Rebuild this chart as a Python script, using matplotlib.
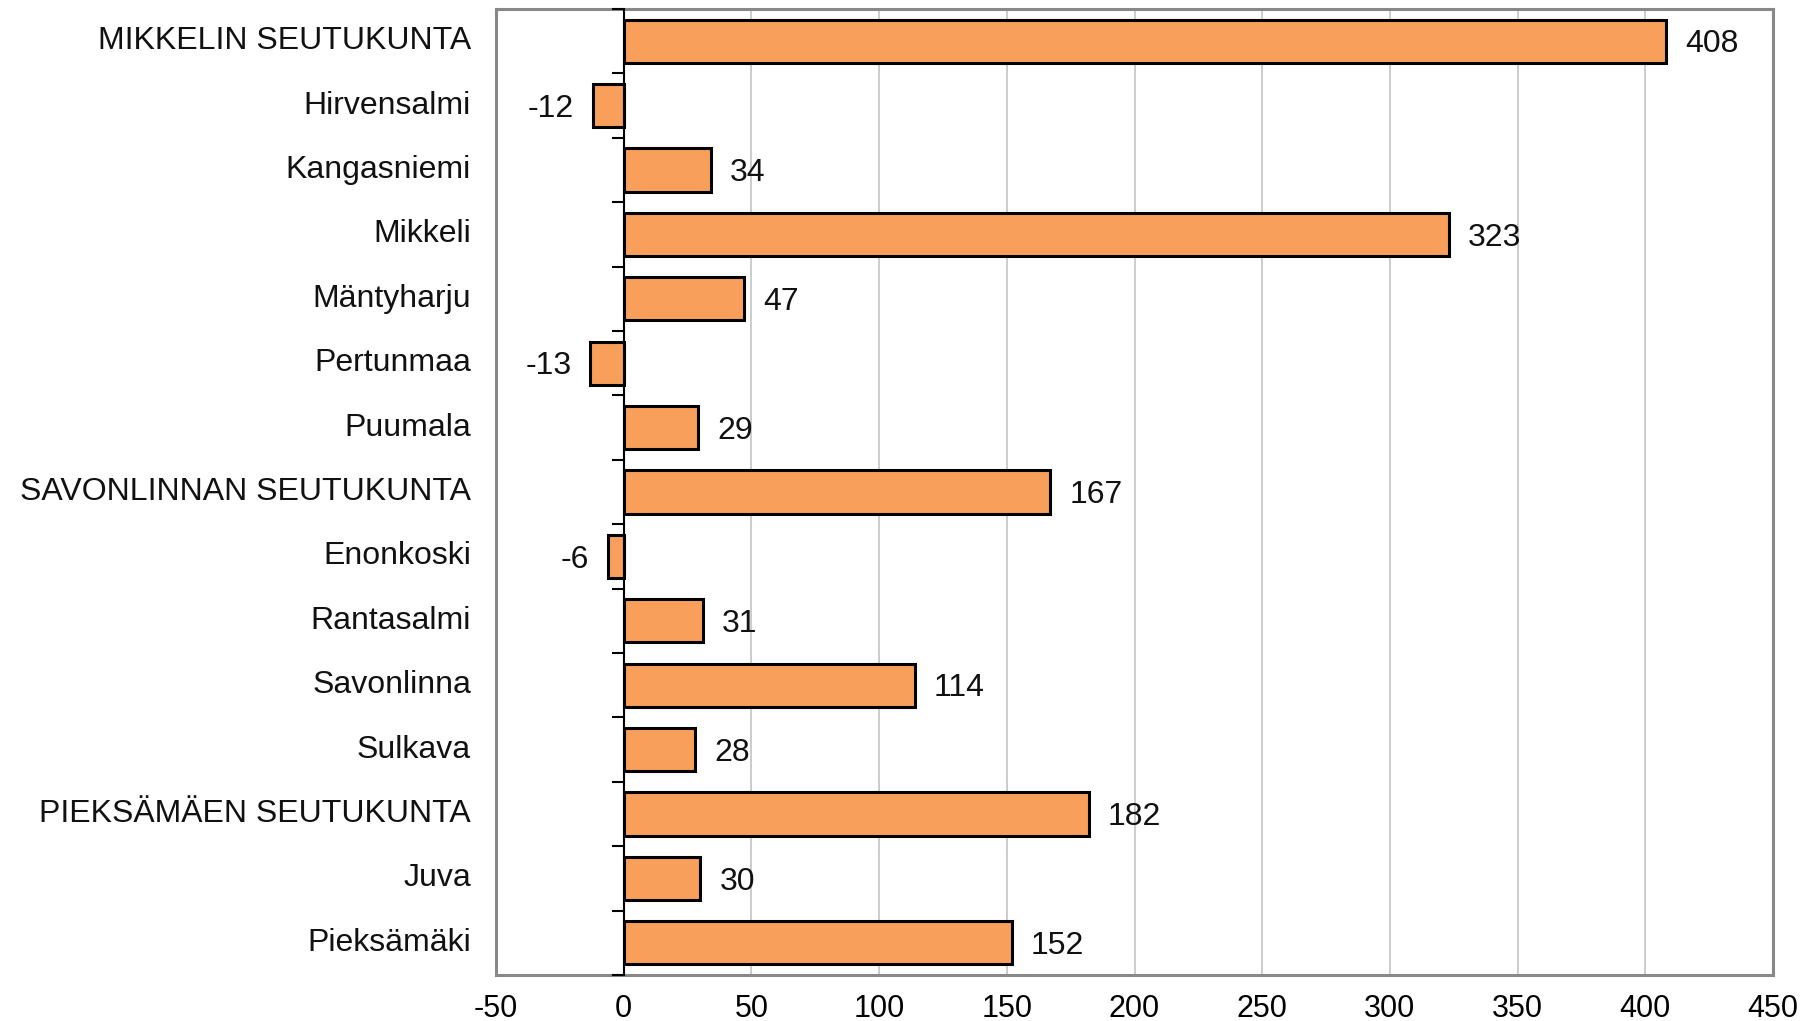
import matplotlib
matplotlib.use("Agg")
import matplotlib.pyplot as plt
import numpy as np

categories = ["MIKKELIN SEUTUKUNTA", "Hirvensalmi", "Kangasniemi", "Mikkeli",
              "Mäntyharju", "Pertunmaa", "Puumala", "SAVONLINNAN SEUTUKUNTA",
              "Enonkoski", "Rantasalmi", "Savonlinna", "Sulkava",
              "PIEKSÄMÄEN SEUTUKUNTA", "Juva", "Pieksämäki"]
values = [408, -12, 34, 323, 47, -13, 29, 167, -6, 31, 114, 28, 182, 30, 152]
xticks = [-50, 0, 50, 100, 150, 200, 250, 300, 350, 400, 450]

plt.rcParams['font.family'] = ['Liberation Sans', 'DejaVu Sans']

fig = plt.figure(figsize=(18.01, 10.21), dpi=100)
ax = fig.add_axes([496/1801, 1 - 975/1021, (1773-496)/1801, (975-9)/1021])

n = len(categories)
y = np.arange(n)
ax.barh(y, values, height=0.67, color="#F79F5B", edgecolor="black", linewidth=2.2, zorder=3)

for yi, v in zip(y, values):
    if v >= 0:
        ax.text(v + 7.5, yi + 0.05, str(v), va="center", ha="left", fontsize=23, color="#111111")
    else:
        ax.text(v - 7.5, yi + 0.05, str(v), va="center", ha="right", fontsize=23, color="#111111")

ax.set_xlim(-50, 450)
ax.set_ylim(n - 0.5, -0.5)
ax.set_xticks(xticks)
ax.set_xticklabels([str(t) for t in xticks], fontsize=22)
ax.tick_params(axis="x", length=0, pad=14)
ax.grid(axis="x", color="#C8C8C8", linewidth=1.3, zorder=0)
ax.set_axisbelow(True)

ax.set_yticks([])
for s in ax.spines.values():
    s.set_color("#888888")
    s.set_linewidth(2.2)

# zero axis line with category boundary ticks
ax.axvline(0, color="black", linewidth=1.5, zorder=4)
for b in np.arange(n + 1) - 0.5:
    ax.plot([-4, 0], [b, b], color="black", linewidth=1.5, zorder=4, clip_on=False)

for yi, c in zip(y, categories):
    ax.annotate(c, xy=(0, yi), xycoords=ax.get_yaxis_transform(), xytext=(-18, 0),
                textcoords="offset points", ha="right", va="center", fontsize=23, color="#111111")

fig.savefig("out.png", dpi=100)
